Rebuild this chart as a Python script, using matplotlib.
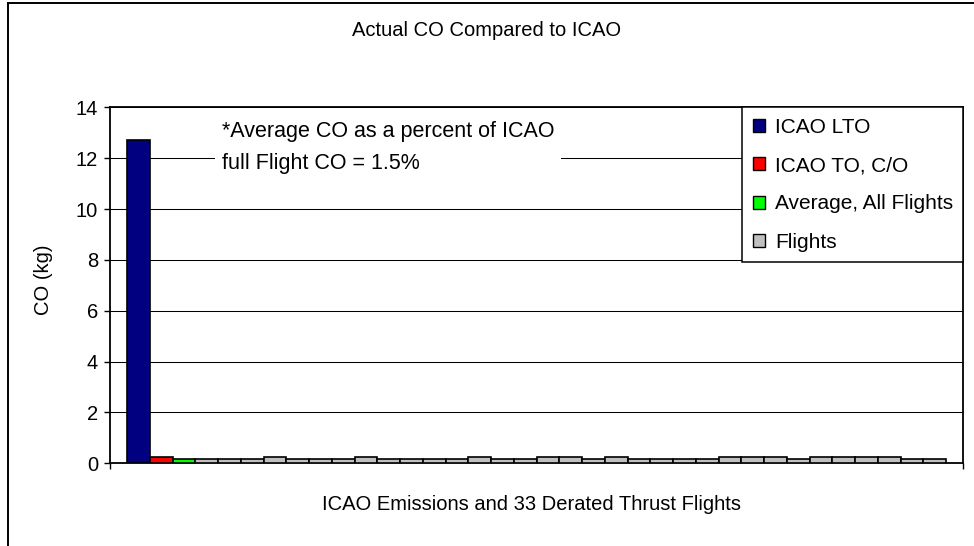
import matplotlib.pyplot as plt
from matplotlib.patches import Patch
from matplotlib.lines import Line2D

plt.rcParams['font.family'] = ['Liberation Sans', 'DejaVu Sans']

# ICAO reference bars
icao_labels = ["ICAO LTO", "ICAO TO, C/O", "Average, All Flights"]
icao_values = [12.7, 0.25, 0.17]
icao_colors = ["#000080", "#FF0000", "#00FF00"]

# 33 derated thrust flights (kg CO)
flight_values = [0.15, 0.15, 0.15, 0.25, 0.15, 0.15, 0.15, 0.25, 0.15, 0.15,
                 0.15, 0.15, 0.25, 0.15, 0.15, 0.25, 0.25, 0.15, 0.25, 0.15,
                 0.15, 0.15, 0.15, 0.25, 0.25, 0.25, 0.15, 0.25, 0.25, 0.25,
                 0.25, 0.15, 0.15]
flight_color = "#C0C0C0"

y_ticks = [0, 2, 4, 6, 8, 10, 12, 14]

fig = plt.figure(figsize=(9.74, 5.46), dpi=100)
ax = fig.add_axes([110/974, 1 - 463.3/546, 853.3/974, 356/546])

values = icao_values + flight_values
colors = icao_colors + [flight_color] * len(flight_values)
xs = list(range(len(values)))
ax.bar(xs, values, width=1.0, color=colors, edgecolor="black", linewidth=1.2, zorder=3)

n = len(values)
ax.set_xlim(-1.25, n - 1 + 1.25)
ax.set_ylim(0, 14)
ax.set_yticks(y_ticks)
ax.set_xticks([-1.25, n - 1 + 1.25])
ax.set_xticklabels([])
ax.tick_params(axis="both", direction="out", length=4.5, width=1, color="black",
               labelsize=14.5, pad=4)
ax.yaxis.grid(True, color="black", linewidth=0.75, zorder=0)
ax.set_axisbelow(True)
for s in ax.spines.values():
    s.set_linewidth(1.3)
    s.set_color("black")

ax.set_ylabel("CO (kg)", fontsize=14.5, va="center")
ax.yaxis.set_label_coords(-0.0785, 0.515)
ax.set_xlabel("ICAO Emissions and 33 Derated Thrust Flights", fontsize=14.5)
ax.xaxis.set_label_coords(0.4935, -0.117)
ax.xaxis.label.set_va("center")

fig.text(0.5, 1 - 31/546, "Actual CO Compared to ICAO", ha="center", va="center", fontsize=14.5)

# annotation box covering the gridline
ax.text(0.131, 0.962, "*Average CO as a percent of ICAO\nfull Flight CO = 1.5%",
        transform=ax.transAxes, ha="left", va="top", fontsize=15.5, linespacing=1.7,
        bbox=dict(facecolor="white", edgecolor="none", pad=5), zorder=5)

handles = [Patch(facecolor=c, edgecolor="black", linewidth=1) for c in icao_colors]
handles.append(Patch(facecolor=flight_color, edgecolor="black", linewidth=1))
leg = ax.legend(handles, icao_labels + ["Flights"], loc="upper right",
                bbox_to_anchor=(1, 1), borderaxespad=0, fontsize=15,
                handlelength=0.6, handleheight=0.6, handletextpad=0.45,
                labelspacing=0.93, borderpad=0.5, fancybox=False, framealpha=1,
                edgecolor="black")
leg.get_frame().set_linewidth(1.1)
leg.set_zorder(6)

# outer chart border (left and top)
fig.add_artist(Line2D([8/974, 8/974], [0, 1 - 3/546], transform=fig.transFigure,
                      color="black", linewidth=1.4))
fig.add_artist(Line2D([8/974, 1], [1 - 3/546, 1 - 3/546], transform=fig.transFigure,
                      color="black", linewidth=1.4))

fig.savefig("out.png", dpi=100)
